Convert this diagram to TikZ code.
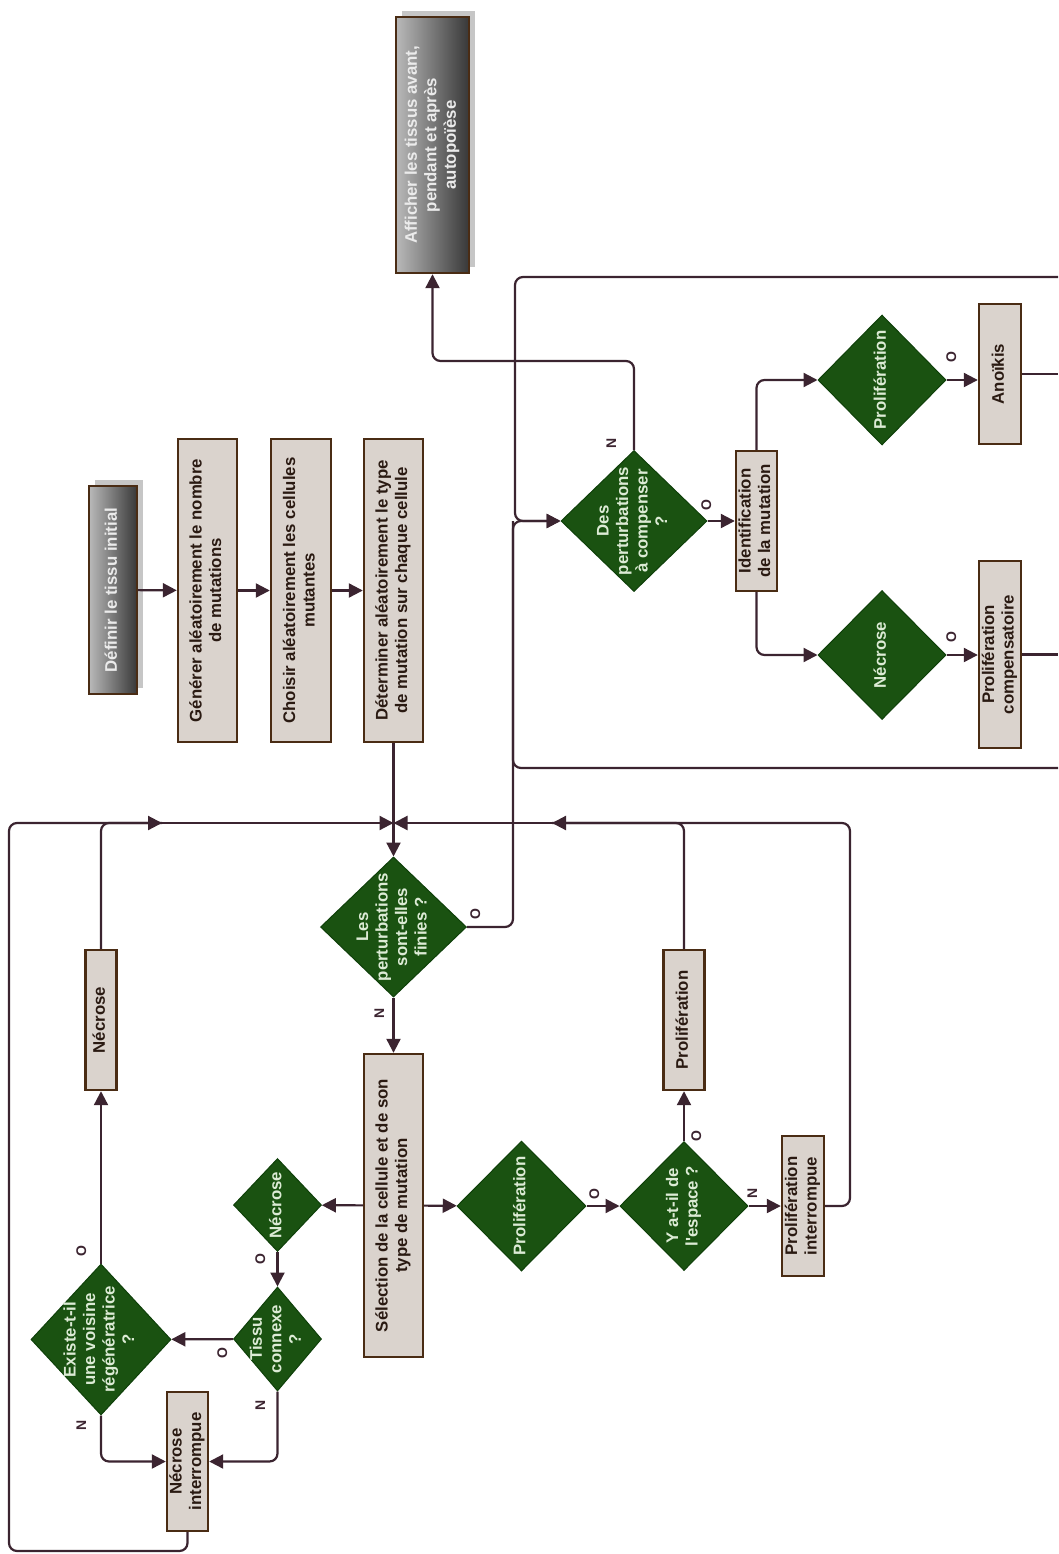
\documentclass[tikz,border=0pt]{standalone}
\usepackage{fontspec}
\setmainfont{Liberation Sans}
\usepackage{graphicx}
\usetikzlibrary{shapes.geometric,arrows.meta,shadows}

\definecolor{linec}{HTML}{3B2430}
\definecolor{boxfill}{HTML}{DAD3CD}
\definecolor{boxline}{HTML}{4A2C14}
\definecolor{boxtext}{HTML}{2A1A12}
\definecolor{greenfill}{HTML}{1A5211}
\definecolor{greenline}{HTML}{0F400A}
\definecolor{greentext}{HTML}{DCEBD5}

% text read from bottom to top, centred, of zero size
\newcommand{\vtxt}[1]{\makebox[0pt]{\raisebox{-.5\height}[0pt][0pt]{\rotatebox{90}{\begin{tabular}{@{}c@{}}#1\end{tabular}}}}}

\begin{document}
\begin{tikzpicture}[
  x=1pt, y=-1pt,
  font=\fontsize{16.8}{19.5}\selectfont\bfseries,
  line/.style={draw=linec, line width=2.2pt, rounded corners=8pt},
  arr/.style={line, -{Triangle[length=14pt,width=14pt]}},
  box/.style={draw=boxline, fill=boxfill, line width=2.4pt, inner sep=0pt, text=boxtext},
  dec/.style={diamond, draw=greenline, fill=greenfill, line width=1pt, inner sep=0pt, text=greentext},
  start/.style={draw=boxline, line width=2.4pt, inner sep=0pt, left color=gray!55, right color=black!78,
    text=white!92!black, drop shadow={shadow xshift=6pt, shadow yshift=6pt, fill=gray!45, opacity=1}},
  lbl/.style={inner sep=0pt, font=\fontsize{14}{16}\selectfont\bfseries, text=linec}]
  \useasboundingbox (0,0) rectangle (1058,1554);

  % initialisation
  \node[start, minimum width=48pt, minimum height=208pt] (tissu) at (113,590) {\vtxt{Définir le tissu initial}};
  \node[box, minimum width=59pt, minimum height=303pt] (nombre) at (207.5,590.5) {\vtxt{Générer aléatoirement le nombre\\de mutations}};
  \node[box, minimum width=60pt, minimum height=303pt] (mutantes) at (301,590.5) {\vtxt{Choisir aléatoirement les cellules\\mutantes}};
  \node[box, minimum width=59pt, minimum height=303pt] (type) at (393.5,590.5) {\vtxt{Déterminer aléatoirement le type\\de mutation sur chaque cellule}};
  \node[start, minimum width=73pt, minimum height=256pt] (affiche) at (432.5,145) {\vtxt{Afficher les tissus avant,\\pendant et après\\autopoïèse}};

  % main loop
  \coordinate (join) at (393.5,823);
  \node[dec, minimum width=146pt, minimum height=140pt] (finies) at (393.5,927) {\vtxt{Les\\perturbations\\sont-elles\\finies ?}};
  \node[box, minimum width=59pt, minimum height=303pt] (selection) at (393.5,1205.5) {\vtxt{Sélection de la cellule et de son\\type de mutation}};
  \node[dec, minimum width=129pt, minimum height=130pt] (prolif) at (521.5,1206) {\vtxt{Prolifération}};
  \node[dec, minimum width=128pt, minimum height=129pt] (espace) at (684,1206) {\vtxt{Y a-t-il de\\l\textquotesingle espace ?}};
  \node[box, minimum width=41pt, minimum height=140pt] (prolok) at (684,1020) {\vtxt{Prolifération}};
  \node[box, minimum width=42pt, minimum height=140pt] (prolint) at (803,1206) {\vtxt{Prolifération\\interrompue}};
  \node[dec, minimum width=88pt, minimum height=93pt] (necrose) at (277.5,1205) {\vtxt{Nécrose}};
  \node[dec, minimum width=88pt, minimum height=104pt] (connexe) at (277.5,1339) {\vtxt{Tissu\\connexe\\?}};
  \node[dec, minimum width=140pt, minimum height=151pt] (voisine) at (101,1339.5) {\vtxt{Existe-t-il\\une voisine\\régénératrice\\?}};
  \node[box, minimum width=31pt, minimum height=140pt] (necok) at (101,1020) {\vtxt{Nécrose}};
  \node[box, minimum width=41pt, minimum height=139pt] (necint) at (187.5,1461.5) {\vtxt{Nécrose\\interrompue}};

  % compensation
  \node[dec, minimum width=146pt, minimum height=141pt] (compense) at (634,521) {\vtxt{Des\\perturbations\\à compenser\\?}};
  \node[box, minimum width=41pt, minimum height=140pt] (ident) at (756.5,521) {\vtxt{Identification\\de la mutation}};
  \node[dec, minimum width=128pt, minimum height=130pt] (cprolif) at (882,380) {\vtxt{Prolifération}};
  \node[dec, minimum width=128pt, minimum height=129pt] (cnecrose) at (882,655) {\vtxt{Nécrose}};
  \node[box, minimum width=42pt, minimum height=140pt] (anoikis) at (1000,374) {\vtxt{Anoïkis}};
  \node[box, minimum width=42pt, minimum height=187pt] (compens) at (1000,654.5) {\vtxt{Prolifération\\compensatoire}};

  % O / N labels
  \node[lbl] (n1) at (381,1013) {\vtxt{N}};
  \node[lbl] (o1) at (477,914) {\vtxt{O}};
  \node[lbl] (o2) at (596,1194) {\vtxt{O}};
  \node[lbl] (o3) at (698,1136) {\vtxt{O}};
  \node[lbl] (n2) at (754,1193) {\vtxt{N}};
  \node[lbl] (o4) at (262,1259) {\vtxt{O}};
  \node[lbl] (o5) at (224,1353) {\vtxt{O}};
  \node[lbl] (n3) at (262,1405) {\vtxt{N}};
  \node[lbl] (o6) at (83,1251) {\vtxt{O}};
  \node[lbl] (n4) at (83,1425) {\vtxt{N}};
  \node[lbl] (n5) at (613,443) {\vtxt{N}};
  \node[lbl] (o7) at (708,505) {\vtxt{O}};
  \node[lbl] (o8) at (953,357) {\vtxt{O}};
  \node[lbl] (o9) at (953,637) {\vtxt{O}};

  % helper points
  \coordinate (midl) at (162,823);
  \coordinate (midr) at (552,823);
  \coordinate (rloop) at (850,823);
  \coordinate (corner) at (9,1551);
  \coordinate (inl) at (513,521);
  \coordinate (inr) at (515,521);
  \coordinate (etop) at (1058,277);
  \coordinate (ebot) at (1058,768);
  \coordinate (eanoi) at (1058,374);
  \coordinate (ecomp) at (1058,654.5);

  % connectors
  \draw[arr] (tissu) -- (nombre);
  \draw[arr] (nombre) -- (mutantes);
  \draw[arr] (mutantes) -- (type);
  \draw[line] (type) -- (join);
  \draw[arr] (join) -- (finies);
  \draw[arr] (finies) -- (selection);
  \draw[arr] (selection) -- (necrose);
  \draw[arr] (selection) -- (prolif);
  \draw[arr] (prolif) -- (espace);
  \draw[arr] (espace) -- (prolok);
  \draw[arr] (espace) -- (prolint);
  \draw[arr] (prolint.east) -| (rloop) -- (midr);
  \draw[line] (prolok.north) |- (midr);
  \draw[arr] (midr) -- (join);
  \draw[arr] (necrose) -- (connexe);
  \draw[arr] (connexe) -- (voisine);
  \draw[arr] (voisine) -- (necok);
  \draw[arr] (voisine.south) |- (necint.west);
  \draw[arr] (connexe.south) |- (necint.east);
  \draw[arr] (necint.south) |- (corner) |- (midl);
  \draw[line] (necok.north) |- (midl);
  \draw[arr] (midl) -- (join);
  \draw[arr] (finies.east) -| (inl) -- (compense.west);
  \draw[arr] (etop) -| (inr) -- (compense.west);
  \draw[line] (ebot) -| (inl);
  \draw[arr] (compense) -- (ident);
  \draw[arr] (ident.north) |- (cprolif.west);
  \draw[arr] (ident.south) |- (cnecrose.west);
  \draw[arr] (cprolif.east) -- (cprolif.east -| anoikis.west);
  \draw[arr] (cnecrose.east) -- (cnecrose.east -| compens.west);
  \draw[line] (anoikis.east) -- (eanoi);
  \draw[line] (compens.east) -- (ecomp);
  \draw[arr] (compense.north) -- ++(0,-89) -| (affiche.south);
\end{tikzpicture}
\end{document}
